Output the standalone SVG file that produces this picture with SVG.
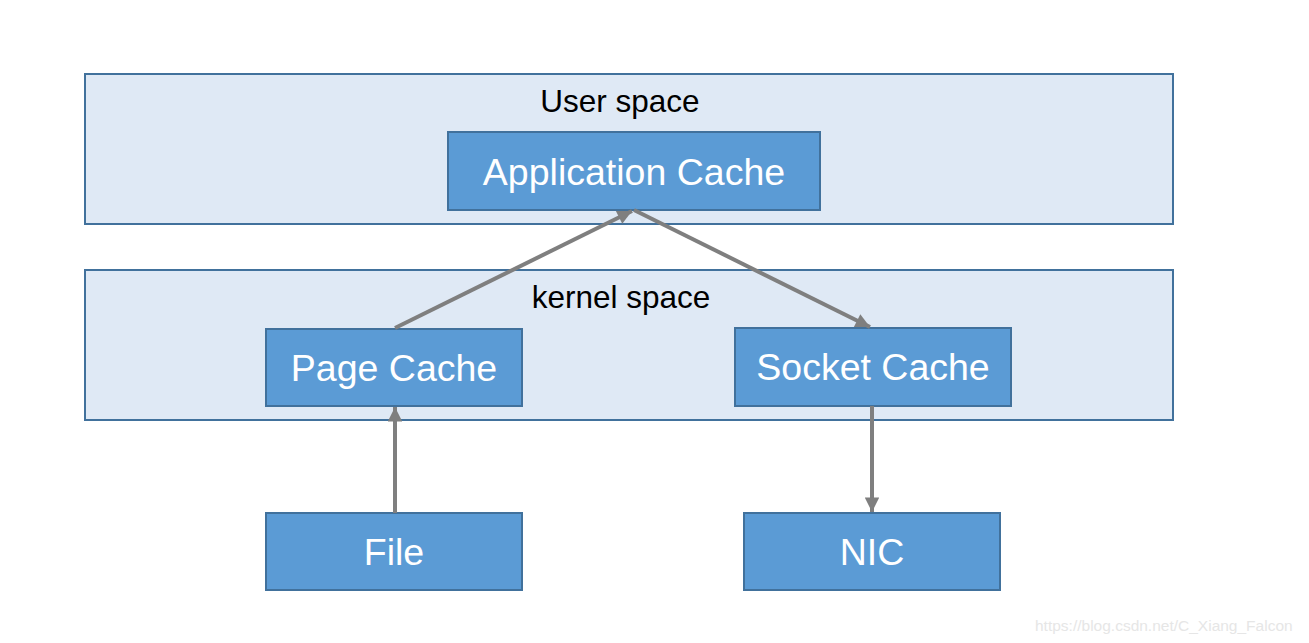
<svg xmlns="http://www.w3.org/2000/svg" width="1309" height="643" viewBox="0 0 1309 643">
<style>
.region{fill:#dfe9f5;stroke:#41719c;stroke-width:2}
.box{fill:#5b9bd5;stroke:#41719c;stroke-width:2}
.lbl{font-family:"Liberation Sans",Arial,sans-serif;font-size:31.5px;fill:#000;text-anchor:middle}
.btxt{font-family:"Liberation Sans",Arial,sans-serif;font-size:37.5px;fill:#fff;text-anchor:middle}
.conn{stroke:#7f7f7f;stroke-width:4;fill:none;marker-end:url(#ah)}
</style>
<defs>
<marker id="ah" viewBox="0 0 10 10" refX="10" refY="5" markerWidth="4" markerHeight="3.6" orient="auto" markerUnits="strokeWidth">
<path d="M0,0 L10,5 L0,10 z" fill="#7f7f7f"/>
</marker>
</defs>
<rect width="1309" height="643" fill="#fff"/>
<g id="user-space">
<rect class="region" x="85" y="74" width="1088" height="150"/>
<text class="lbl" x="620" y="112">User space</text>
</g>
<g id="kernel-space">
<rect class="region" x="85" y="270" width="1088" height="150"/>
<text class="lbl" x="621" y="308">kernel space</text>
</g>
<g id="app-cache">
<rect class="box" x="448" y="132" width="372" height="78"/>
<text class="btxt" x="634" y="185">Application Cache</text>
</g>
<g id="page-cache">
<rect class="box" x="266" y="329" width="256" height="77"/>
<text class="btxt" x="394" y="381">Page Cache</text>
</g>
<g id="socket-cache">
<rect class="box" x="735" y="328" width="276" height="78"/>
<text class="btxt" x="873" y="380">Socket Cache</text>
</g>
<g id="file">
<rect class="box" x="266" y="513" width="256" height="77"/>
<text class="btxt" x="394" y="565">File</text>
</g>
<g id="nic">
<rect class="box" x="744" y="513" width="256" height="77"/>
<text class="btxt" x="872" y="565">NIC</text>
</g>
<g id="connectors">
<line class="conn" x1="395" y1="328" x2="632" y2="211"/>
<line class="conn" x1="634" y1="210" x2="870" y2="327"/>
<line class="conn" x1="395" y1="513" x2="395" y2="407"/>
<line class="conn" x1="872" y1="406" x2="872" y2="512"/>
</g>
<text x="1035" y="631" font-family="Liberation Sans,Arial,sans-serif" font-size="15.5" fill="#e6e6e6">https://blog.csdn.net/C_Xiang_Falcon</text>
</svg>
